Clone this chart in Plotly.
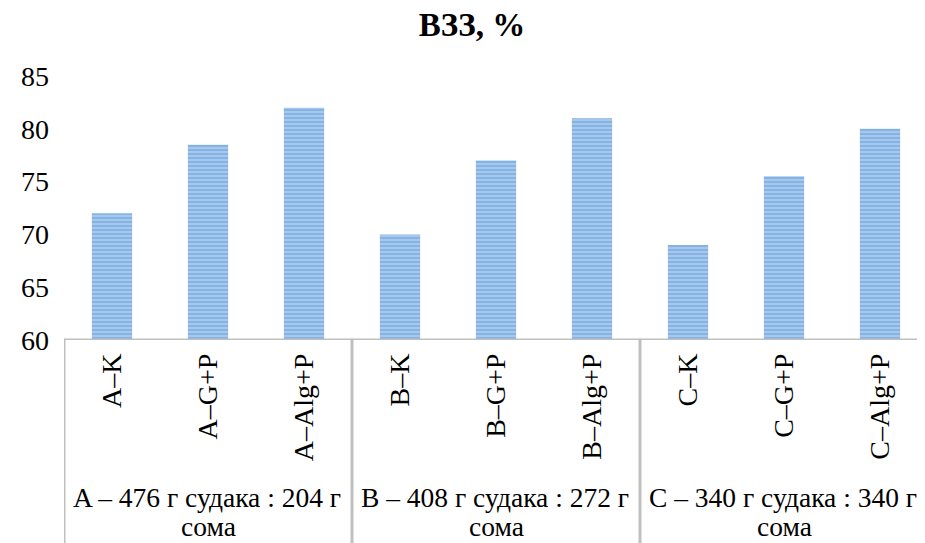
import plotly.graph_objects as go

categories = ["A–K", "A–G+P", "A–Alg+P", "B–K", "B–G+P", "B–Alg+P", "C–K", "C–G+P", "C–Alg+P"]
values = [72, 78.5, 82, 70, 77, 81, 69, 75.5, 80]
group_line1 = ["A – 476 г судака : 204 г",
               "B – 408 г судака : 272 г",
               "C – 340 г судака : 340 г"]
group_line2 = ["сома", "сома", "сома"]
group_centers = [1, 4, 7]
separators = [-0.5, 2.5, 5.5, 8.5]
y_ticks = [60, 65, 70, 75, 80, 85]
title_text = "ВЗЗ, %"

FONT = "Liberation Serif, Times New Roman, serif"
GRAY = "#bfbfbf"
FS = 28

fig = go.Figure()
fig.add_trace(go.Bar(
    x=list(range(len(categories))),
    y=values,
    base=0,
    width=0.42,
    marker=dict(
        color="#b4d0f0",
        line=dict(width=0),
        pattern=dict(shape="-", fgcolor="#5a9ad9", bgcolor="#b0cdef", size=4, solidity=0.6),
    ),
))

shapes = []
shapes.append(dict(type="line", xref="paper", yref="y", x0=0, x1=1, y0=60, y1=60,
                   line=dict(color=GRAY, width=3)))
for s in separators:
    shapes.append(dict(type="line", xref="x", yref="paper", x0=s, x1=s, y0=0, y1=-0.9,
                       line=dict(color=GRAY, width=3)))

annotations = []
for c, t1, t2 in zip(group_centers, group_line1, group_line2):
    annotations.append(dict(x=c, xref="x", y=-0.5947, yref="paper", text=t1, showarrow=False,
                            xanchor="center", yanchor="middle", xshift=-1,
                            font=dict(family=FONT, size=27.5, color="black")))
    annotations.append(dict(x=c, xref="x", y=-0.708, yref="paper", text=t2, showarrow=False,
                            xanchor="center", yanchor="middle",
                            font=dict(family=FONT, size=27.5, color="black")))

fig.update_layout(
    width=925, height=543,
    margin=dict(l=56, r=5, t=68, b=211, autoexpand=False),
    paper_bgcolor="white", plot_bgcolor="white",
    showlegend=False,
    title=dict(text="<b>" + title_text + "</b>", x=464 / 925, xanchor="center", y=1 - 5 / 543,
               yanchor="top", xref="container", yref="container",
               font=dict(family=FONT, size=33, color="black")),
    shapes=shapes,
    annotations=annotations,
    xaxis=dict(
        range=[-0.5, 8.5],
        tickmode="array", tickvals=list(range(len(categories))), ticktext=categories,
        tickangle=-90, showgrid=False, zeroline=False, showline=False, ticks="",
        tickfont=dict(family=FONT, size=FS, color="black"),
        ticklabelstandoff=7, automargin=False,
    ),
    yaxis=dict(
        range=[60, 85], tickmode="array", tickvals=y_ticks,
        showgrid=False, zeroline=False, showline=False, ticks="",
        tickfont=dict(family=FONT, size=FS, color="black"),
        ticklabelstandoff=14, automargin=False,
    ),
)

fig.write_html("out.html")
